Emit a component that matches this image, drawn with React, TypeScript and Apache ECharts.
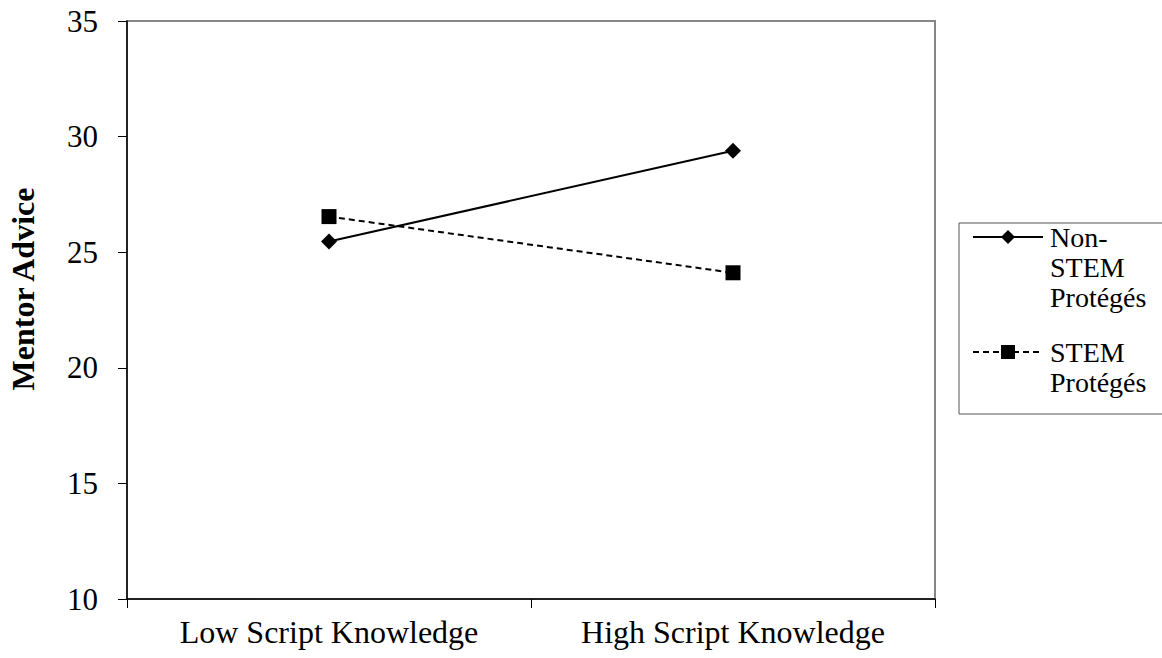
import React, { useEffect, useRef } from "react";
import * as echarts from "echarts";

const categories = ["Low Script Knowledge", "High Script Knowledge"];
const nonStemValues = [25.46, 29.39];
const stemValues = [26.54, 24.11];
const seriesNames = ["Non-\nSTEM\nProtégés", "STEM\nProtégés"];
const yTicks = { min: 10, max: 35, interval: 5 };
const yAxisTitle = "Mentor Advice";

const FONT = "'Liberation Serif', 'Times New Roman', serif";

export default function App() {
  const ref = useRef<HTMLDivElement>(null);
  useEffect(() => {
    if (!ref.current) return;
    const chart = echarts.init(ref.current, undefined, { renderer: "svg" });
    chart.setOption({
      animation: false,
      backgroundColor: "#ffffff",
      textStyle: { fontFamily: FONT },
      grid: {
        left: 127,
        right: 227,
        top: 21,
        bottom: 59,
        show: true,
        borderColor: "#868686",
        borderWidth: 2,
        backgroundColor: "transparent",
      },
      xAxis: {
        type: "category",
        data: categories,
        boundaryGap: true,
        axisLine: { show: true, lineStyle: { color: "#000", width: 1.5 } },
        axisTick: { show: true, length: 9, alignWithLabel: false, lineStyle: { color: "#000", width: 1 } },
        axisLabel: { color: "#000", fontSize: 32, fontFamily: FONT, margin: 17 },
        splitLine: { show: false },
      },
      yAxis: {
        type: "value",
        min: yTicks.min,
        max: yTicks.max,
        interval: yTicks.interval,
        axisLine: { show: true, lineStyle: { color: "#000", width: 1.5 } },
        axisTick: { show: true, length: 9, lineStyle: { color: "#000", width: 1 } },
        axisLabel: { color: "#000", fontSize: 31, fontFamily: FONT, margin: 29 },
        splitLine: { show: false },
      },
      series: [
        {
          name: seriesNames[0],
          type: "line",
          data: nonStemValues,
          symbol: "diamond",
          symbolSize: 16,
          itemStyle: { color: "#000" },
          lineStyle: { color: "#000", width: 2, type: "solid" },
        },
        {
          name: seriesNames[1],
          type: "line",
          data: stemValues,
          symbol: "rect",
          symbolSize: 15,
          itemStyle: { color: "#000" },
          lineStyle: { color: "#000", width: 2, type: [6, 4] },
        },
      ],
      graphic: [
        {
          type: "text",
          x: 23,
          y: 289,
          rotation: Math.PI / 2,
          style: {
            text: yAxisTitle,
            font: `bold 32px ${FONT}`,
            fill: "#000",
            align: "center",
            verticalAlign: "middle",
          },
        },
        {
          type: "rect",
          shape: { x: 959, y: 223, width: 220, height: 191 },
          style: { fill: "transparent", stroke: "#555", lineWidth: 1 },
        },
        {
          type: "line",
          shape: { x1: 973, y1: 237, x2: 1043, y2: 237 },
          style: { stroke: "#000", lineWidth: 2 },
        },
        {
          type: "polygon",
          shape: { points: [[1008, 230], [1015, 237], [1008, 244], [1001, 237]] },
          style: { fill: "#000" },
        },
        {
          type: "text",
          x: 1050,
          y: 222,
          style: {
            text: seriesNames[0],
            font: `28px ${FONT}`,
            lineHeight: 30,
            fill: "#000",
            align: "left",
            verticalAlign: "top",
          },
        },
        {
          type: "line",
          shape: { x1: 973, y1: 352, x2: 1043, y2: 352 },
          style: { stroke: "#000", lineWidth: 2, lineDash: [6, 4] },
        },
        {
          type: "rect",
          shape: { x: 1001, y: 345, width: 14, height: 14 },
          style: { fill: "#000" },
        },
        {
          type: "text",
          x: 1050,
          y: 337,
          style: {
            text: seriesNames[1],
            font: `28px ${FONT}`,
            lineHeight: 30,
            fill: "#000",
            align: "left",
            verticalAlign: "top",
          },
        },
      ],
    });
    return () => chart.dispose();
  }, []);
  return (
    <div
      ref={ref}
      style={{ position: "absolute", left: 0, top: 0, width: 1162, height: 658 }}
    />
  );
}
